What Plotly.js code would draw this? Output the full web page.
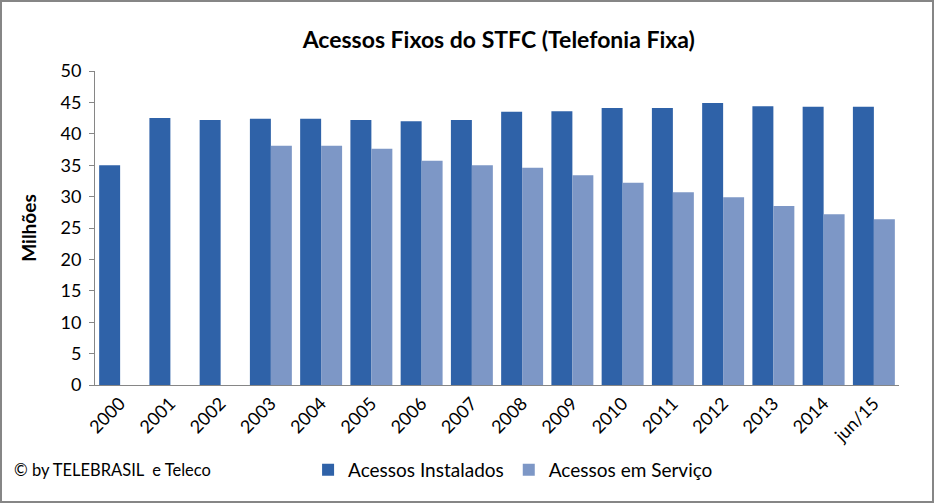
<!DOCTYPE html>
<html>
<head>
<meta charset="utf-8">
<script src="https://cdn.plot.ly/plotly-3.0.1.min.js"></script>
<style>
html,body{margin:0;padding:0;background:#fff;}
#wrap{position:relative;width:934px;height:503px;}
#chart{width:934px;height:503px;}
#frame{position:absolute;left:0;top:0;width:934px;height:503px;box-sizing:border-box;border:2px solid #868686;pointer-events:none;}
</style>
</head>
<body>
<div id="wrap"><div id="chart"></div><div id="frame"></div></div>
<script>
const categories = ["2000","2001","2002","2003","2004","2005","2006","2007","2008","2009","2010","2011","2012","2013","2014","jun/15"];
const instalados = [35.0,42.5,42.2,42.4,42.4,42.2,42.0,42.2,43.5,43.6,44.1,44.1,44.9,44.4,44.3,44.3];
const emServico = [null,null,null,38.1,38.1,37.6,35.7,35.0,34.6,33.4,32.2,30.7,29.9,28.5,27.2,26.4];
const seriesNames = ["Acessos Instalados","Acessos em Serviço"];
const titleText = "Acessos Fixos do STFC (Telefonia Fixa)";
const yTitle = "Milhões";
const credit = "© by TELEBRASIL  e Teleco";

const font = "Lato, 'Open Sans', sans-serif";
const data = [
  {type:"bar", name:seriesNames[0], x:categories, y:instalados, marker:{color:"#2f62a8"}},
  {type:"bar", name:seriesNames[1], x:categories, y:emServico, marker:{color:"#7d97c6"}}
];
const layout = {
  width:934, height:503,
  margin:{l:95, r:35, t:71, b:118},
  paper_bgcolor:"#fff", plot_bgcolor:"#fff",
  font:{family:font, color:"#000", size:18},
  title:{text:"<b>"+titleText+"</b>", x:0.534, xanchor:"center", y:0.92, yanchor:"middle", font:{size:23, family:font}},
  barmode:"group", bargap:0.165, bargroupgap:0,
  xaxis:{type:"category", tickangle:-45, showline:true, linecolor:"#868686", linewidth:1, ticks:"", showgrid:false, tickfont:{size:18}},
  yaxis:{range:[0,50], dtick:5, showline:true, linecolor:"#868686", linewidth:1, ticks:"outside", ticklen:5, tickcolor:"#868686", showgrid:false, zeroline:false, tickfont:{size:18}, ticklabelstandoff:4,
         title:{text:"<b>"+yTitle+"</b>", font:{size:19}, standoff:18}},
  showlegend:true,
  legend:{orientation:"h", x:0.52, xanchor:"center", y:-0.27, yanchor:"middle", font:{size:19}, itemwidth:30, tracegroupgap:0},
  annotations:[{text:credit, xref:"paper", yref:"paper", x:-0.103, xanchor:"left", y:-0.27, yanchor:"middle", showarrow:false, font:{size:16.5}}]
};
Plotly.newPlot("chart", data, layout, {displayModeBar:false, staticPlot:true});
</script>
</body>
</html>
